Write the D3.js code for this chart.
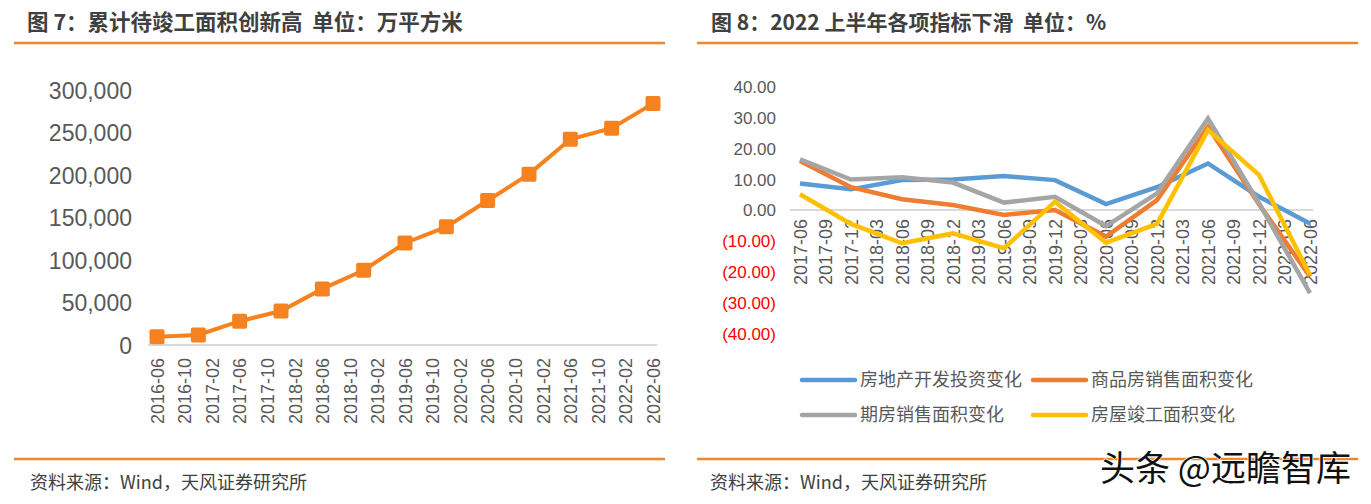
<!DOCTYPE html>
<html><head><meta charset="utf-8">
<script src="https://cdn.jsdelivr.net/npm/d3@7"></script>
<style>
html,body{margin:0;padding:0;background:#fff;}
svg{display:block;}
</style></head>
<body>
<svg id="c" width="1371" height="504"></svg>
<script>
// ---------- data ----------
const leftTickLabels = ["2016-06","2016-10","2017-02","2017-06","2017-10","2018-02","2018-06","2018-10","2019-02","2019-06","2019-10","2020-02","2020-06","2020-10","2021-02","2021-06","2021-10","2022-02","2022-06"];
const leftDates = ["2016-06","2016-12","2017-06","2017-12","2018-06","2018-12","2019-06","2019-12","2020-06","2020-12","2021-06","2021-12","2022-06"];
const leftValues = [9800, 11800, 28000, 40000, 66000, 88000, 120000, 139000, 170000, 201000, 242000, 255000, 284000];
const leftYTicks = [0, 50000, 100000, 150000, 200000, 250000, 300000];

const rightTickLabels = ["2017-06","2017-09","2017-12","2018-03","2018-06","2018-09","2018-12","2019-03","2019-06","2019-09","2019-12","2020-03","2020-06","2020-09","2020-12","2021-03","2021-06","2021-09","2021-12","2022-03","2022-06"];
const rightDates = ["2017-06","2017-12","2018-06","2018-12","2019-06","2019-12","2020-06","2020-12","2021-06","2021-12","2022-06"];
const seriesNames = ["房地产开发投资变化","商品房销售面积变化","期房销售面积变化","房屋竣工面积变化"];
const investChange = [8.6, 6.7, 9.7, 9.9, 11.0, 9.7, 1.9, 7.4, 15.1, 4.3, -4.4];
const salesAreaChange = [15.9, 7.4, 3.5, 1.6, -1.6, 0.0, -8.6, 3.2, 27.0, 1.9, -21.6];
const presaleAreaChange = [16.4, 9.9, 10.6, 8.9, 2.4, 4.3, -5.2, 5.4, 29.7, 2.2, -27.0];
const completedAreaChange = [5.1, -4.5, -10.8, -7.6, -12.4, 2.7, -10.6, -4.5, 25.9, 11.4, -21.1];
const rightYTicks = [40, 30, 20, 10, 0, -10, -20, -30, -40];

const titleLeft = "图 7：累计待竣工面积创新高  单位：万平方米";
const titleRight = "图 8：2022 上半年各项指标下滑  单位：%";
const sourceText = "资料来源：Wind，天风证券研究所";
const watermark = "头条 @远瞻智库";

// ---------- helpers ----------
const svg = d3.select("#c");
const ORANGE = "#f0862a";
const TXT = "#595959";
const latin = "'Liberation Sans', Arial, sans-serif";
const cjk = "'Noto Sans CJK SC', 'Liberation Sans', sans-serif";
function monthIndex(s, base){ const [y,m]=s.split("-").map(Number); const [by,bm]=base.split("-").map(Number); return (y-by)*12+(m-bm); }

// ---------- headers / footers ----------
svg.append("text").attr("x",27).attr("y",30).attr("font-family",cjk).attr("font-weight","bold")
  .attr("font-size",21.5).attr("fill","#404040").attr("xml:space","preserve").text(titleLeft);
svg.append("text").attr("x",711).attr("y",30).attr("font-family",cjk).attr("font-weight","bold")
  .attr("font-size",21).attr("fill","#404040").attr("xml:space","preserve").text(titleRight);
[[14,665],[697,1358]].forEach(([a,b])=>{
  svg.append("line").attr("x1",a).attr("x2",b).attr("y1",43).attr("y2",43).attr("stroke",ORANGE).attr("stroke-width",2.5);
  svg.append("line").attr("x1",a).attr("x2",b).attr("y1",459).attr("y2",459).attr("stroke",ORANGE).attr("stroke-width",2.5);
});
svg.append("text").attr("x",30).attr("y",489).attr("font-family",cjk).attr("font-size",18).attr("fill","#404040").text(sourceText);
svg.append("text").attr("x",710).attr("y",489).attr("font-family",cjk).attr("font-size",18).attr("fill","#404040").text(sourceText);

// ---------- left chart ----------
const L = svg.append("g");
const lx = d3.scaleLinear().domain([0,72]).range([157,653]);
const ly = d3.scaleLinear().domain([0,300000]).range([345,90]);
L.append("line").attr("x1",148).attr("x2",657).attr("y1",ly(0)).attr("y2",ly(0)).attr("stroke","#d9d9d9").attr("stroke-width",2);
const lyAxis = d3.axisLeft(ly).tickValues(leftYTicks).tickSize(0).tickPadding(0).tickFormat(d3.format(",")); 
const lyG = L.append("g").attr("transform","translate(132,0)").call(lyAxis);
lyG.select(".domain").remove();
lyG.selectAll("text").attr("font-family",latin).attr("font-size",23).attr("fill",TXT).attr("dy","0.35em");
const lxAxis = d3.axisBottom(lx).tickValues(leftTickLabels.map((d,i)=>i*4)).tickSize(0).tickFormat((d,i)=>leftTickLabels[i]);
const lxG = L.append("g").attr("transform","translate(0,"+ly(0)+")").call(lxAxis);
lxG.select(".domain").remove();
lxG.selectAll("text").attr("font-family",latin).attr("font-size",18).attr("fill",TXT)
  .attr("transform","rotate(-90)").attr("text-anchor","end").attr("x",-13).attr("y",0).attr("dy","0.35em");
const lpts = leftDates.map((d,i)=>[lx(monthIndex(d,"2016-06")), ly(leftValues[i])]);
L.append("path").attr("d",d3.line()(lpts)).attr("fill","none").attr("stroke","#f5821f").attr("stroke-width",4);
L.selectAll("rect.m").data(lpts).enter().append("rect").attr("class","m")
  .attr("x",d=>d[0]-7.5).attr("y",d=>d[1]-7.5).attr("width",15).attr("height",15).attr("rx",2)
  .attr("fill","#f5821f");

// ---------- right chart ----------
const R = svg.append("g");
const rx = d3.scaleLinear().domain([0,20]).range([800,1310]);
const ry = d3.scaleLinear().domain([-40,40]).range([333.3,86.7]);
R.append("line").attr("x1",790).attr("x2",1313).attr("y1",ry(0)).attr("y2",ry(0)).attr("stroke","#d9d9d9").attr("stroke-width",2);
const ryAxis = d3.axisLeft(ry).tickValues(rightYTicks).tickSize(0).tickPadding(0)
  .tickFormat(d=> d<0 ? "("+d3.format(".2f")(-d)+")" : d3.format(".2f")(d));
const ryG = R.append("g").attr("transform","translate(776,0)").call(ryAxis);
ryG.select(".domain").remove();
ryG.selectAll("text").attr("font-family",latin).attr("font-size",17).attr("dy","0.35em")
  .attr("fill",d=> d<0 ? "#ff0000" : TXT);
const rxAxis = d3.axisBottom(rx).tickValues(rightTickLabels.map((d,i)=>i)).tickSize(0).tickFormat((d,i)=>rightTickLabels[i]);
const rxG = R.append("g").attr("transform","translate(0,"+ry(0)+")").call(rxAxis);
rxG.select(".domain").remove();
rxG.selectAll("text").attr("font-family",latin).attr("font-size",18).attr("fill",TXT)
  .attr("transform","rotate(-90)").attr("text-anchor","end").attr("x",-9).attr("y",0).attr("dy","0.35em");
const colors = ["#5b9bd5","#ed7d31","#a5a5a5","#ffc000"];
const allSeries = [investChange, salesAreaChange, presaleAreaChange, completedAreaChange];
const rline = d3.line().x(d=>d[0]).y(d=>d[1]);
allSeries.forEach((vals,k)=>{
  const pts = rightDates.map((d,i)=>[rx(monthIndex(d,"2017-06")/3), ry(vals[i])]);
  R.append("path").attr("d",rline(pts)).attr("fill","none").attr("stroke",colors[k]).attr("stroke-width",4.5);
});
// legend
const legPos = [[802,380],[1033,380],[802,415],[1033,415]];
seriesNames.forEach((n,k)=>{
  const [x,y]=legPos[k];
  R.append("line").attr("x1",x).attr("x2",x+53).attr("y1",y).attr("y2",y).attr("stroke",colors[k]).attr("stroke-width",4.5).attr("stroke-linecap","round");
  R.append("text").attr("x",x+58).attr("y",y).attr("dy","0.35em").attr("font-family",cjk).attr("font-size",18).attr("fill",TXT).text(n);
});

// watermark
svg.append("text").attr("x",1100).attr("y",481).attr("font-family",cjk).attr("font-size",35)
  .attr("fill","#111").attr("stroke","#fff").attr("stroke-width",1.5).attr("paint-order","stroke").text(watermark);
</script>
</body></html>
